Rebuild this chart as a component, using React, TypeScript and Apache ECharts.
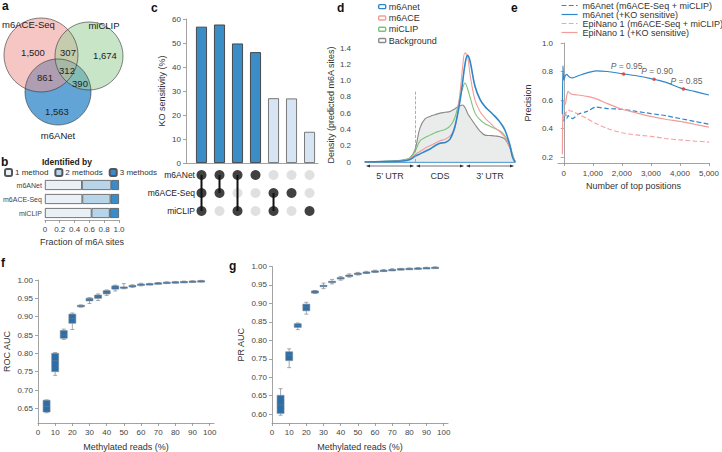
import React, { useEffect, useRef } from 'react';
import * as echarts from 'echarts';

const FONT = '"Liberation Sans", Arial, sans-serif';

// ---------- Panel a: Venn ----------
const vennSetNames = ['m6ACE-Seq', 'miCLIP', 'm6ANet'];
const vennRegions = ['m6ACE-Seq only', 'miCLIP only', 'm6ANet only', 'm6ACE-Seq & miCLIP', 'm6ACE-Seq & m6ANet', 'miCLIP & m6ANet', 'all three'];
const vennCounts = [1500, 1674, 1563, 307, 861, 390, 312];

// ---------- Panel b ----------
const bMethods = ['m6ANet', 'm6ACE-Seq', 'miCLIP'];
const bLegend = ['1 method', '2 methods', '3 methods'];
const bOne = [0.5, 0.505, 0.63];
const bTwo = [0.395, 0.38, 0.245];
const bThree = [0.105, 0.115, 0.125];

// ---------- Panel c ----------
const upsetSets = ['m6ANet', 'm6ACE-Seq', 'miCLIP'];
const upsetCombos = [[0, 1, 2], [0, 1], [0, 2], [0], [1, 2], [1], [2]];
const koSensitivity = [56.8, 57.7, 49.8, 46.2, 27.0, 26.9, 13.0];

// ---------- Panel d ----------
const dRegions = ['5\u2019 UTR', 'CDS', '3\u2019 UTR'];
const dPos = [0, 0.2, 0.4, 0.6, 0.8, 0.9, 1.0, 1.1, 1.2, 1.3, 1.4, 1.5, 1.6, 1.7, 1.8, 1.9, 1.95, 2.0, 2.05, 2.1, 2.2, 2.3, 2.4, 2.5, 2.6, 2.7, 2.8, 2.9, 2.95, 3.0];
const dBackground = [0, 0.005, 0.01, 0.015, 0.03, 0.05, 0.15, 0.42, 0.53, 0.56, 0.58, 0.6, 0.61, 0.62, 0.655, 0.69, 0.7, 0.67, 0.6, 0.55, 0.46, 0.38, 0.33, 0.325, 0.32, 0.31, 0.28, 0.17, 0.08, 0];
const dM6ace = [0, 0.003, 0.006, 0.01, 0.02, 0.04, 0.09, 0.13, 0.17, 0.2, 0.23, 0.26, 0.28, 0.32, 0.42, 0.85, 1.15, 1.34, 1.3, 1.08, 0.76, 0.62, 0.54, 0.48, 0.42, 0.37, 0.3, 0.17, 0.08, 0.01];
const dM6anet = [0, 0.002, 0.005, 0.008, 0.015, 0.03, 0.07, 0.1, 0.13, 0.16, 0.2, 0.23, 0.24, 0.28, 0.44, 0.75, 0.97, 1.2, 1.31, 1.24, 0.93, 0.77, 0.68, 0.62, 0.56, 0.49, 0.39, 0.2, 0.06, 0];
const dMiclip = [0, 0.004, 0.008, 0.012, 0.025, 0.05, 0.13, 0.26, 0.3, 0.33, 0.36, 0.38, 0.4, 0.44, 0.55, 0.8, 0.9, 0.97, 0.9, 0.8, 0.6, 0.52, 0.47, 0.44, 0.41, 0.38, 0.32, 0.2, 0.1, 0.01];
const dBoundaries = [1, 2];
const dBoundaryTops = [0.88, 1.43];

// ---------- Panel e ----------
const eNames = ['m6Anet (m6ACE-Seq + miCLIP)', 'm6Anet (+KO sensitive)', 'EpiNano 1 (m6ACE-Seq + miCLIP)', 'EpiNano 1 (+KO sensitive)'];
const eTop = [-50, -30, 0, 50, 100, 150, 200, 300, 500, 800, 1100, 1500, 2000, 2500, 3000, 3500, 4000, 4500, 5000];
const eM6anetOrth = [null, null, 0.45, 0.51, 0.47, 0.49, 0.48, 0.47, 0.5, 0.52, 0.55, 0.54, 0.535, 0.52, 0.505, 0.49, 0.47, 0.45, 0.43];
const eM6anetKO = [0.5, 0.84, 0.74, 0.77, 0.78, 0.77, 0.76, 0.755, 0.77, 0.79, 0.805, 0.8, 0.785, 0.77, 0.75, 0.725, 0.685, 0.66, 0.635];
const eEpiOrth = [null, 0.5, 0.47, 0.5, 0.52, 0.53, 0.525, 0.52, 0.5, 0.47, 0.435, 0.4, 0.37, 0.355, 0.345, 0.33, 0.32, 0.312, 0.305];
const eEpiKO = [0.22, 0.55, 0.6, 0.57, 0.63, 0.66, 0.65, 0.64, 0.635, 0.625, 0.61, 0.575, 0.535, 0.51, 0.485, 0.465, 0.45, 0.43, 0.41];
const pLabels = ['0.95', '0.90', '0.85'];
const pTop = [2060, 3110, 4120];
const pPrecision = [0.783, 0.745, 0.678];

// ---------- Panels f, g ----------
const reads = [5, 10, 15, 20, 25, 30, 35, 40, 45, 50, 55, 60, 65, 70, 75, 80, 85, 90, 95];
const fLow = [0.638, 0.74, 0.838, 0.865, 0.926, 0.936, 0.944, 0.958, 0.97, 0.976, 0.98, 0.984, 0.987, 0.99, 0.991, 0.992, 0.993, 0.994, 0.995];
const fQ1 = [0.64, 0.75, 0.841, 0.882, 0.927, 0.943, 0.95, 0.962, 0.975, 0.979, 0.982, 0.986, 0.988, 0.991, 0.992, 0.993, 0.994, 0.995, 0.996];
const fMed = [0.655, 0.78, 0.85, 0.895, 0.929, 0.946, 0.954, 0.966, 0.98, 0.98, 0.984, 0.988, 0.989, 0.992, 0.993, 0.994, 0.995, 0.996, 0.997];
const fQ3 = [0.672, 0.8, 0.862, 0.907, 0.931, 0.95, 0.959, 0.971, 0.984, 0.981, 0.985, 0.989, 0.99, 0.992, 0.994, 0.995, 0.996, 0.997, 0.998];
const fHigh = [0.673, 0.802, 0.866, 0.91, 0.932, 0.952, 0.962, 0.973, 0.986, 0.99, 0.987, 0.991, 0.991, 0.993, 0.995, 0.996, 0.997, 0.998, 0.999];
const gLow = [0.597, 0.726, 0.829, 0.871, 0.927, 0.94, 0.953, 0.963, 0.971, 0.977, 0.981, 0.984, 0.987, 0.989, 0.991, 0.992, 0.993, 0.995, 0.996];
const gQ1 = [0.602, 0.745, 0.835, 0.88, 0.928, 0.946, 0.957, 0.966, 0.973, 0.979, 0.983, 0.986, 0.988, 0.99, 0.992, 0.993, 0.994, 0.996, 0.997];
const gMed = [0.625, 0.76, 0.84, 0.89, 0.93, 0.948, 0.959, 0.968, 0.975, 0.98, 0.984, 0.987, 0.989, 0.991, 0.993, 0.994, 0.995, 0.996, 0.997];
const gQ3 = [0.651, 0.769, 0.845, 0.898, 0.934, 0.949, 0.96, 0.97, 0.977, 0.982, 0.985, 0.988, 0.99, 0.992, 0.994, 0.995, 0.996, 0.997, 0.998];
const gHigh = [0.669, 0.777, 0.847, 0.903, 0.935, 0.955, 0.965, 0.973, 0.98, 0.984, 0.987, 0.99, 0.992, 0.994, 0.995, 0.996, 0.997, 0.998, 0.999];
const readTicks = [0, 10, 20, 30, 40, 50, 60, 70, 80, 90, 100];
const fTicks = [0.65, 0.7, 0.75, 0.8, 0.85, 0.9, 0.95, 1.0];
const gTicks = [0.6, 0.65, 0.7, 0.75, 0.8, 0.85, 0.9, 0.95, 1.0];
const eXTicks = [0, 1000, 2000, 3000, 4000, 5000];
const eYTicks = [0.2, 0.4, 0.6, 0.8, 1.0];

// ---------- styles ----------
const AX = '#8c8c8c';
const lbl = { fontSize: 8, color: '#444', fontFamily: FONT };
const nameStyle = { fontSize: 9, color: '#333', fontFamily: FONT };
const axLine = { show: true, lineStyle: { color: AX, width: 0.8 } };
const axTick = { show: true, length: 3, lineStyle: { color: AX, width: 0.8 } };
const noSplit = { show: false };

const C_BLUE = '#2f86c8';
const C_PINK = '#f39c9a';
const C_GREEN = '#7cc47a';
const C_GRAY = '#8a8a8a';

function boxRender(params: any, api: any) {
  const x = api.value(0);
  const lo = api.coord([x, api.value(1)]);
  const q1 = api.coord([x, api.value(2)]);
  const md = api.coord([x, api.value(3)]);
  const q3 = api.coord([x, api.value(4)]);
  const hi = api.coord([x, api.value(5)]);
  const hw = 3.5;
  const cw = 2;
  const st = { stroke: '#8d9299', lineWidth: 0.8 };
  return {
    type: 'group',
    children: [
      { type: 'line', shape: { x1: hi[0], y1: hi[1], x2: q3[0], y2: q3[1] }, style: st },
      { type: 'line', shape: { x1: q1[0], y1: q1[1], x2: lo[0], y2: lo[1] }, style: st },
      { type: 'line', shape: { x1: hi[0] - cw, y1: hi[1], x2: hi[0] + cw, y2: hi[1] }, style: st },
      { type: 'line', shape: { x1: lo[0] - cw, y1: lo[1], x2: lo[0] + cw, y2: lo[1] }, style: st },
      {
        type: 'rect',
        shape: { x: q3[0] - hw, y: q3[1], width: hw * 2, height: Math.max(q1[1] - q3[1], 1.4) },
        style: { fill: '#2c6ea7', stroke: '#7d8791', lineWidth: 0.6 },
      },
      { type: 'line', shape: { x1: md[0] - hw, y1: md[1], x2: md[0] + hw, y2: md[1] }, style: { stroke: '#5f7f9c', lineWidth: 0.6 } },
    ],
  };
}

function buildOption(): any {
  const fmt1 = (v: number) => (v === 0 ? '0' : v.toFixed(1));
  const upsetDots: any[] = [];
  const upsetGray: any[] = [];
  upsetCombos.forEach((combo, ci) => {
    upsetSets.forEach((_, si) => {
      if (combo.includes(si)) upsetDots.push([ci + 1, si]);
      else upsetGray.push([ci + 1, si]);
    });
  });
  const connectors = upsetCombos
    .map((combo, ci) => ({ combo, ci }))
    .filter((o) => o.combo.length > 1)
    .map((o) => ({
      type: 'line',
      xAxisIndex: 2,
      yAxisIndex: 2,
      data: [[o.ci + 1, Math.min(...o.combo)], [o.ci + 1, Math.max(...o.combo)]],
      symbol: 'none',
      lineStyle: { color: '#111', width: 2 },
      z: 3,
      silent: true,
    }));

  const dNames = ['m6Anet', 'm6ACE', 'miCLIP', 'Background'];
  const dColors = [C_BLUE, C_PINK, C_GREEN, C_GRAY];
  const dSeries = [dM6anet, dM6ace, dMiclip, dBackground];
  const eData = [eM6anetOrth, eM6anetKO, eEpiOrth, eEpiKO];
  const eColors = [C_BLUE, C_BLUE, '#f5a3a3', '#f39c9a'];
  const eDash = ['dashed', 'solid', 'dashed', 'solid'];

  const boxData = (lo: number[], q1: number[], md: number[], q3: number[], hi: number[]) =>
    reads.map((r, i) => [r, lo[i], q1[i], md[i], q3[i], hi[i]]);

  return {
    animation: false,
    backgroundColor: '#fff',
    textStyle: { fontFamily: FONT },
    grid: [
      { left: 43, top: 178, width: 76, height: 42 },
      { left: 186, top: 19, width: 132, height: 144 },
      { left: 197, top: 166, width: 121, height: 54 },
      { left: 365, top: 48, width: 150, height: 114 },
      { left: 558, top: 43, width: 154, height: 120 },
      { left: 38, top: 280, width: 176, height: 144 },
      { left: 272, top: 266.5, width: 176, height: 157.5 },
    ],
    legend: [
      {
        data: bLegend,
        left: 4,
        top: 168,
        itemWidth: 7,
        itemHeight: 7,
        itemGap: 6,
        padding: 0,
        selectedMode: false,
        textStyle: { fontSize: 8, color: '#333', padding: [0, 0, 0, -2] },
      },
      {
        data: dNames.map((n, i) => ({
          name: n,
          icon: 'roundRect',
          itemStyle: { color: '#fff', borderColor: dColors[i], borderWidth: 1.4 },
        })),
        orient: 'vertical',
        left: 378,
        top: 1,
        itemWidth: 7,
        itemHeight: 4,
        itemGap: 0,
        padding: 0,
        selectedMode: false,
        textStyle: { fontSize: 9, color: '#333', lineHeight: 11.3, padding: [0, 0, 0, -2] },
      },
      {
        data: eNames,
        orient: 'vertical',
        left: 561,
        top: 1,
        itemWidth: 16,
        itemHeight: 6,
        itemGap: 0,
        padding: 0,
        selectedMode: false,
        itemStyle: { opacity: 0 },
        lineStyle: { width: 1.2 },
        textStyle: { fontSize: 9, color: '#333', lineHeight: 9 },
      },
    ],
    xAxis: [
      {
        type: 'value', gridIndex: 0, min: 0, max: 1, interval: 0.2,
        axisLine: axLine, axisTick: axTick, splitLine: noSplit,
        axisLabel: { ...lbl, margin: 5, formatter: fmt1 },
        name: 'Fraction of m6A sites', nameLocation: 'middle', nameGap: 17, nameTextStyle: nameStyle,
      },
      {
        type: 'value', gridIndex: 1, min: 0.14, max: 7.47,
        axisLine: axLine, axisTick: { show: false }, axisLabel: { show: false }, splitLine: noSplit,
      },
      { type: 'value', gridIndex: 2, min: 0.75, max: 7.47, show: false, splitLine: noSplit },
      {
        type: 'value', gridIndex: 3, min: 0, max: 3,
        axisLine: { show: true, lineStyle: { color: C_BLUE, width: 1.6 } },
        axisTick: { show: false }, splitLine: noSplit,
        axisLabel: {
          ...lbl, fontSize: 9, color: '#333', margin: 9,
          customValues: [0.5, 1.5, 2.5],
          formatter: (v: number) => dRegions[Math.floor(v)],
        },
      },
      {
        type: 'value', gridIndex: 4, min: -200, max: 5000,
        axisLine: axLine, axisTick: { ...axTick, customValues: eXTicks }, splitLine: noSplit,
        axisLabel: { ...lbl, margin: 6, customValues: eXTicks, formatter: (v: number) => v.toLocaleString('en-US') },
        name: 'Number of top positions', nameLocation: 'middle', nameGap: 18, nameTextStyle: nameStyle,
      },
      {
        type: 'value', gridIndex: 5, min: 0, max: 102.5,
        axisLine: axLine, axisTick: { ...axTick, customValues: readTicks }, splitLine: noSplit,
        axisLabel: { ...lbl, margin: 5, customValues: readTicks },
        name: 'Methylated reads (%)', nameLocation: 'middle', nameGap: 19, nameTextStyle: nameStyle,
      },
      {
        type: 'value', gridIndex: 6, min: 0, max: 102.5,
        axisLine: axLine, axisTick: { ...axTick, customValues: readTicks }, splitLine: noSplit,
        axisLabel: { ...lbl, margin: 5, customValues: readTicks },
        name: 'Methylated reads (%)', nameLocation: 'middle', nameGap: 19, nameTextStyle: nameStyle,
      },
    ],
    yAxis: [
      {
        type: 'category', gridIndex: 0, data: bMethods, inverse: true,
        axisLine: { show: false }, axisTick: { show: false },
        axisLabel: { ...lbl, fontSize: 7, margin: 3 },
      },
      {
        type: 'value', gridIndex: 1, min: 0, max: 60, interval: 10,
        axisLine: axLine, axisTick: axTick, splitLine: noSplit,
        axisLabel: { ...lbl, margin: 5 },
        name: 'KO sensitivity (%)', nameLocation: 'middle', nameGap: 20, nameTextStyle: nameStyle,
      },
      {
        type: 'category', gridIndex: 2, data: upsetSets, inverse: true,
        axisLine: { show: false }, axisTick: { show: false },
        axisLabel: { ...lbl, fontSize: 8.5, color: '#222', margin: 2 },
      },
      {
        type: 'value', gridIndex: 3, min: 0, max: 1.4, interval: 0.2,
        axisLine: { show: false }, axisTick: { show: false }, splitLine: noSplit,
        axisLabel: { ...lbl, margin: 14, formatter: fmt1 },
        name: 'Density (predicted m6A sites)', nameLocation: 'middle', nameGap: 27, nameTextStyle: nameStyle,
      },
      {
        type: 'value', gridIndex: 4, min: 0.158, max: 1.0,
        axisLine: axLine, axisTick: { ...axTick, customValues: eYTicks }, splitLine: noSplit,
        axisLabel: { ...lbl, margin: 5, customValues: eYTicks, formatter: (v: number) => v.toFixed(1) },
        name: 'Precision', nameLocation: 'middle', nameGap: 26, nameTextStyle: nameStyle,
      },
      {
        type: 'value', gridIndex: 5, min: 0.61, max: 1.0,
        axisLine: axLine, axisTick: { ...axTick, customValues: fTicks }, splitLine: noSplit,
        axisLabel: { ...lbl, margin: 5, customValues: fTicks, formatter: (v: number) => v.toFixed(2) },
        name: 'ROC AUC', nameLocation: 'middle', nameGap: 27, nameTextStyle: nameStyle,
      },
      {
        type: 'value', gridIndex: 6, min: 0.576, max: 1.0,
        axisLine: axLine, axisTick: { ...axTick, customValues: gTicks }, splitLine: noSplit,
        axisLabel: { ...lbl, margin: 5, customValues: gTicks, formatter: (v: number) => v.toFixed(2) },
        name: 'PR AUC', nameLocation: 'middle', nameGap: 27, nameTextStyle: nameStyle,
      },
    ],
    series: [
      // b
      ...[bOne, bTwo, bThree].map((arr, i) => ({
        type: 'bar',
        name: bLegend[i],
        stack: 'b',
        xAxisIndex: 0,
        yAxisIndex: 0,
        barWidth: 10,
        data: arr,
        itemStyle: { color: ['#e9f0f6', '#b7d4e9', '#3a8cc8'][i], borderColor: '#555', borderWidth: 0.8 },
      })),
      // c bars
      {
        type: 'bar',
        xAxisIndex: 1,
        yAxisIndex: 1,
        barWidth: 11,
        data: koSensitivity.map((v, i) => ({
          value: [i + 1, v],
          itemStyle: upsetCombos[i].includes(0)
            ? { color: '#3b8dc8', borderColor: '#3d3d3d', borderWidth: 0.9 }
            : { color: '#d6e4f3', borderColor: '#6b6b6b', borderWidth: 0.9 },
        })),
      },
      // c dots
      {
        type: 'scatter', xAxisIndex: 2, yAxisIndex: 2, data: upsetGray,
        symbolSize: 10, itemStyle: { color: '#d8d8d8' }, silent: true,
      },
      ...connectors,
      {
        type: 'scatter', xAxisIndex: 2, yAxisIndex: 2, data: upsetDots,
        symbolSize: 10, itemStyle: { color: '#111' }, z: 4, silent: true,
      },
      // d
      ...[3, 2, 1, 0].map((k) => ({
        type: 'line',
        name: dNames[k],
        xAxisIndex: 3,
        yAxisIndex: 3,
        data: dPos.map((p, i) => [p, dSeries[k][i]]),
        smooth: 0.4,
        symbol: 'none',
        lineStyle: { color: dColors[k], width: k === 0 ? 1.6 : 1.1 },
        itemStyle: { color: dColors[k] },
        areaStyle: k === 3 ? { color: '#e6e7e7', opacity: 0.85 } : undefined,
        markLine: k === 3
          ? {
              silent: true,
              symbol: 'none',
              label: { show: false },
              lineStyle: { color: '#9a9a9a', type: 'dashed', width: 0.8 },
              data: dBoundaries.map((b, j) => [{ coord: [b, 0] }, { coord: [b, dBoundaryTops[j]] }]),
            }
          : undefined,
      })),
      // e
      ...[0, 2, 3, 1].map((k) => ({
        type: 'line',
        name: eNames[k],
        xAxisIndex: 4,
        yAxisIndex: 4,
        data: eTop.map((t, i) => [t, eData[k][i]]).filter((d) => d[1] !== null),
        smooth: 0.25,
        symbol: 'none',
        lineStyle: { color: eColors[k], width: 1.2, type: eDash[k] },
        itemStyle: { color: eColors[k] },
      })),
      {
        type: 'scatter',
        xAxisIndex: 4,
        yAxisIndex: 4,
        data: pTop.map((t, i) => [t, pPrecision[i]]),
        symbolSize: 3.5,
        itemStyle: { color: '#e8372f' },
        z: 5,
        label: {
          show: true,
          position: 'top',
          distance: 2,
          offset: [3, 0],
          fontSize: 8.5,
          color: '#333',
          formatter: (p: any) => `{i|P} = ${pLabels[p.dataIndex]}`,
          rich: { i: { fontStyle: 'italic', fontSize: 8.5, color: '#333' } },
        },
      },
      // f, g
      {
        type: 'custom', xAxisIndex: 5, yAxisIndex: 5, renderItem: boxRender,
        encode: { x: 0, y: [1, 2, 3, 4, 5] },
        data: boxData(fLow, fQ1, fMed, fQ3, fHigh),
      },
      {
        type: 'custom', xAxisIndex: 6, yAxisIndex: 6, renderItem: boxRender,
        encode: { x: 0, y: [1, 2, 3, 4, 5] },
        data: boxData(gLow, gQ1, gMed, gQ3, gHigh),
      },
    ],
  };
}

// layout of the Venn diagram (geometry, not data)
const vennCircles = [
  { cx: 41, cy: 55, r: 37, fill: '#ef9896' },
  { cx: 89, cy: 56, r: 34, fill: '#9ccf99' },
  { cx: 58, cy: 92, r: 33, fill: '#5a9fd3' },
];
const vennLabelPos = [[33, 52], [105, 55], [57, 111], [68, 52], [45, 77], [80, 83], [67, 70]];
const vennNamePos = [[2, 24, 'left'], [104, 25, 'center'], [58, 135, 'center']];

function buildGraphics(chart: any): any[] {
  const g: any[] = [];
  const order = [2, 0, 1];
  order.forEach((k) => {
    const c = vennCircles[k];
    g.push({
      type: 'circle',
      shape: { cx: c.cx, cy: c.cy, r: c.r },
      style: { fill: c.fill, opacity: k === 2 ? 0.95 : 0.55 },
      silent: true,
    });
  });
  vennCircles.forEach((c) => {
    g.push({
      type: 'circle',
      shape: { cx: c.cx, cy: c.cy, r: c.r },
      style: { fill: 'none', stroke: '#333', lineWidth: 0.6 },
      silent: true,
    });
  });
  vennCounts.forEach((n, i) => {
    g.push({
      type: 'text',
      x: vennLabelPos[i][0],
      y: vennLabelPos[i][1],
      style: { text: n.toLocaleString('en-US'), fontSize: 9.5, fill: '#222', align: 'center', verticalAlign: 'middle', fontFamily: FONT },
      silent: true,
    });
  });
  vennSetNames.forEach((n, i) => {
    g.push({
      type: 'text',
      x: vennNamePos[i][0],
      y: vennNamePos[i][1],
      style: { text: n, fontSize: 9.5, fill: '#222', align: vennNamePos[i][2], verticalAlign: 'middle', fontFamily: FONT },
      silent: true,
    });
  });
  const letters: [string, number, number][] = [
    ['a', 2, 0], ['b', 1, 156], ['c', 151, 2], ['d', 337, 2], ['e', 511, 2], ['f', 1, 257], ['g', 229, 260],
  ];
  letters.forEach(([t, x, y]) =>
    g.push({
      type: 'text', x, y,
      style: { text: t, fontSize: 12, fontWeight: 'bold', fill: '#111', fontFamily: FONT, verticalAlign: 'top' },
      silent: true,
    })
  );
  g.push({
    type: 'text', x: 67, y: 162,
    style: { text: 'Identified by', fontSize: 8.5, fontWeight: 'bold', fill: '#222', align: 'center', verticalAlign: 'middle', fontFamily: FONT },
    silent: true,
  });
  const edges = [0, ...dBoundaries, 3];
  for (let i = 0; i < edges.length - 1; i++) {
    const a = chart.convertToPixel({ gridIndex: 3 }, [edges[i], 0]);
    const b = chart.convertToPixel({ gridIndex: 3 }, [edges[i + 1], 0]);
    const y = a[1] + 4;
    const x1 = a[0] + 1.5;
    const x2 = b[0] - 1.5;
    g.push({ type: 'line', shape: { x1, y1: y, x2, y2: y }, style: { stroke: '#333', lineWidth: 0.7 }, silent: true });
    g.push({ type: 'polygon', shape: { points: [[x1, y], [x1 + 3.5, y - 1.6], [x1 + 3.5, y + 1.6]] }, style: { fill: '#333' }, silent: true });
    g.push({ type: 'polygon', shape: { points: [[x2, y], [x2 - 3.5, y - 1.6], [x2 - 3.5, y + 1.6]] }, style: { fill: '#333' }, silent: true });
  }
  return g;
}

export default function App() {
  const ref = useRef<HTMLDivElement>(null);
  useEffect(() => {
    const chart = echarts.init(ref.current as HTMLDivElement, null, { renderer: 'svg' });
    chart.setOption(buildOption());
    chart.setOption({ graphic: buildGraphics(chart) });
    return () => chart.dispose();
  }, []);
  return (
    <div
      ref={ref}
      style={{ position: 'absolute', left: 0, top: 0, width: 722, height: 452, background: '#fff' }}
    />
  );
}
